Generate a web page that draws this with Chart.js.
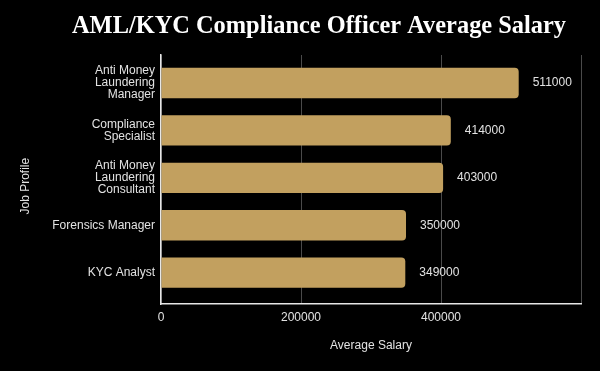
<!DOCTYPE html>
<html>
<head>
<meta charset="utf-8">
<script src="https://cdn.jsdelivr.net/npm/chart.js@4.4.1/dist/chart.umd.min.js"></script>
<style>
  html, body { margin: 0; padding: 0; background: #000; }
  #wrap { width: 600px; height: 371px; }
</style>
</head>
<body>
<div id="wrap"><canvas id="salaryChart"></canvas></div>
<script>
const chartTitle = 'AML/KYC Compliance Officer Average Salary';
const jobProfiles = [
    ['Anti Money', 'Laundering', 'Manager'],
    ['Compliance', 'Specialist'],
    ['Anti Money', 'Laundering', 'Consultant'],
    'Forensics Manager',
    'KYC Analyst'
];
const avgSalary = [511000, 414000, 403000, 350000, 349000];
const salaryTicks = [0, 200000, 400000];

const textColor = '#e2e2e2';
const barColor = '#c2a05f';
const sansFont = '"Liberation Sans", Arial, sans-serif';

// title drawn by hand so it can sit off-centre like the original
const titlePlugin = {
    id: 'titlePlugin',
    afterDraw(chart) {
        const ctx = chart.ctx;
        ctx.save();
        ctx.fillStyle = '#ffffff';
        ctx.font = 'bold 24.4px "Liberation Serif", "DejaVu Serif", serif';
        ctx.textAlign = 'center';
        ctx.textBaseline = 'alphabetic';
        ctx.fillText(chartTitle, 319, 33);
        ctx.restore();
    }
};

// value labels to the right of each bar
const valueLabels = {
    id: 'valueLabels',
    afterDatasetsDraw(chart) {
        const ctx = chart.ctx;
        const meta = chart.getDatasetMeta(0);
        ctx.save();
        ctx.fillStyle = textColor;
        ctx.font = '12px ' + sansFont;
        ctx.textAlign = 'left';
        ctx.textBaseline = 'middle';
        meta.data.forEach((bar, i) => {
            ctx.fillText(String(avgSalary[i]), bar.x + 14, bar.y);
        });
        ctx.restore();
    }
};

new Chart(document.getElementById('salaryChart'), {
    type: 'bar',
    data: {
        datasets: [{
            data: avgSalary.map((v, i) => ({ x: v, y: i })),
            backgroundColor: barColor,
            borderRadius: 4,
            categoryPercentage: 0.8,
            barPercentage: 0.8
        }]
    },
    options: {
        indexAxis: 'y',
        responsive: true,
        maintainAspectRatio: false,
        animation: false,
        layout: { padding: { top: 55, right: 19, bottom: 14, left: 14 } },
        plugins: {
            legend: { display: false },
            tooltip: { enabled: false }
        },
        scales: {
            x: {
                type: 'linear',
                position: 'bottom',
                min: 0,
                max: 600000,
                afterFit: s => { s.height = 53; },
                afterBuildTicks: s => {
                    s.ticks = salaryTicks.concat([600000]).map(v => ({ value: v }));
                },
                ticks: {
                    color: textColor,
                    padding: 6,
                    font: { size: 12, family: sansFont },
                    callback: v => salaryTicks.includes(v) ? String(v) : ''
                },
                grid: { color: '#4a4a4a', drawTicks: false },
                border: { color: '#e6e6e6', width: 1.5 },
                title: {
                    display: true,
                    text: 'Average Salary',
                    color: textColor,
                    font: { size: 12, family: sansFont }
                }
            },
            y: {
                type: 'linear',
                reverse: true,
                offset: false,
                min: -0.59,
                max: 4.66,
                afterFit: s => { s.width = 147; },
                afterBuildTicks: s => {
                    s.ticks = jobProfiles.map((_, i) => ({ value: i }));
                },
                ticks: {
                    color: textColor,
                    padding: 6,
                    autoSkip: false,
                    font: { size: 12, lineHeight: 1, family: sansFont },
                    callback: v => jobProfiles[v]
                },
                grid: { display: false, drawTicks: false },
                border: { color: '#e6e6e6', width: 1.5 },
                title: {
                    display: true,
                    // trailing spaces nudge the rotated text down a little
                    text: 'Job Profile\u00a0\u00a0\u00a0\u00a0',
                    color: textColor,
                    font: { size: 12, family: sansFont }
                }
            }
        }
    },
    plugins: [titlePlugin, valueLabels]
});
</script>
</body>
</html>
